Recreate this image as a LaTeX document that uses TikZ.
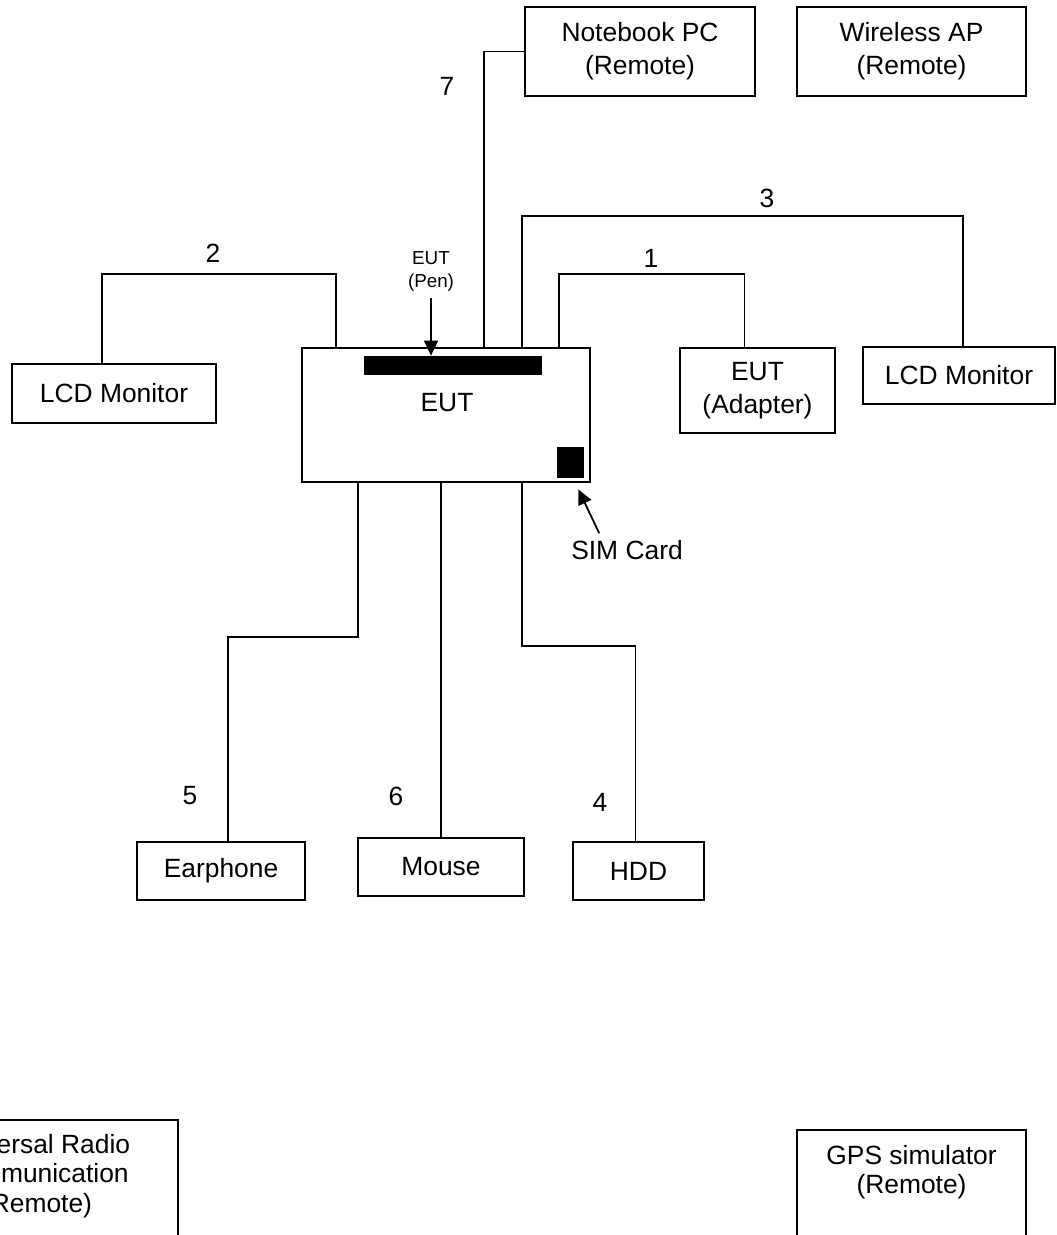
\documentclass[tikz,border=0pt]{standalone}
\usepackage{fontspec}
\setmainfont{Liberation Sans}
\usetikzlibrary{arrows.meta}

\tikzset{
  box/.style={draw, line width=0.9pt, align=center, inner sep=0pt},
  chip/.style={fill=black, inner sep=0pt},
  wire/.style={line width=0.9pt},
  pointer/.style={line width=0.9pt, -{Triangle[length=7.5pt,width=7pt]}},
  tiny/.style={font=\fontsize{9.4}{11.5}\selectfont, align=center},
  tight/.style={font=\fontsize{13.2}{14.8}\selectfont, align=center, inner sep=0pt}
}

\begin{document}
\begin{tikzpicture}[x=0.5pt, y=-0.5pt, font=\fontsize{13.2}{16.5}\selectfont]

  \useasboundingbox (0,0) rectangle (1056,1235);
  \clip (0,0) rectangle (1056,1235);

  % boxes: name/x/y/width/height/text
  \foreach \name/\x/\y/\w/\h/\txt in {
      nbpc/640/51.5/230/89/{Notebook PC\\(Remote)},
      wap/911.5/51.5/229/89/{Wireless AP\\(Remote)},
      eut/446/415/288/134/{},
      lcdL/114/393.5/204/59/{LCD Monitor},
      adapter/757.5/390.5/155/85/{EUT\\(Adapter)},
      lcdR/959/375.5/192/57/{LCD Monitor},
      earphone/221/871/168/58/{Earphone},
      mouse/441/867/166/58/{Mouse},
      hdd/638.5/871/131/58/{HDD},
      urc/37/1200/282/160/{},
      gps/911.5/1210/229/160/{}} {
    \node [box, minimum width=\w*0.5pt, minimum height=\h*0.5pt] (\name) at (\x,\y) {\txt};
  }
  \node [tight] (urctext) at (37,1176) {Universal Radio\\Communication\\(Remote)};
  \node [tight] (gpstext) at (911.5,1172) {GPS simulator\\(Remote)};

  \node (eutname) at (447,403) {EUT};
  \node [chip, minimum width=89pt, minimum height=9.5pt] (bar) at (453,365.5) {};
  \node [chip, minimum width=13.5pt, minimum height=15.5pt] (simcard) at (570.5,462.5) {};

  % cables
  \draw [wire] (eut.north west) ++(183,0) |- (nbpc.west);
  \draw [wire] (eut.north west) ++(35,0) -- ++(0,-73) -| ([xshift=-6pt]lcdL.north);
  \draw [wire] (eut.north west) ++(221,0) -- ++(0,-131) -| ([xshift=2pt]lcdR.north);
  \draw [wire] (eut.north west) ++(258,0) -- ++(0,-73) -| ([xshift=-6.5pt]adapter.north);
  \draw [wire] (eut.south west) ++(57,0) -- ++(0,154) -| ([xshift=3.5pt]earphone.north);
  \draw [wire] (mouse.north) -- (mouse.north |- eut.south);
  \draw [wire] (eut.south west) ++(221,0) -- ++(0,163) -| ([xshift=-1.5pt]hdd.north);

  \foreach \lab/\x/\y in {7/447/86, 2/213/253, 3/767/198, 1/651/258, 5/190/796, 6/396/796, 4/600/802} {
    \node (n\lab) at (\x,\y) {\lab};
  }

  % pen and SIM card
  \node [tiny] (pen) at (431,271) {EUT\\(Pen)};
  \draw [pointer] (pen.south) -- (bar.north -| pen.south);
  \node (sim) at (627,550) {SIM Card};
  \draw [pointer] ([xshift=17.5pt,yshift=0pt]sim.north west) -- ([xshift=-3pt,yshift=-5.5pt]simcard.south east);

\end{tikzpicture}
\end{document}
